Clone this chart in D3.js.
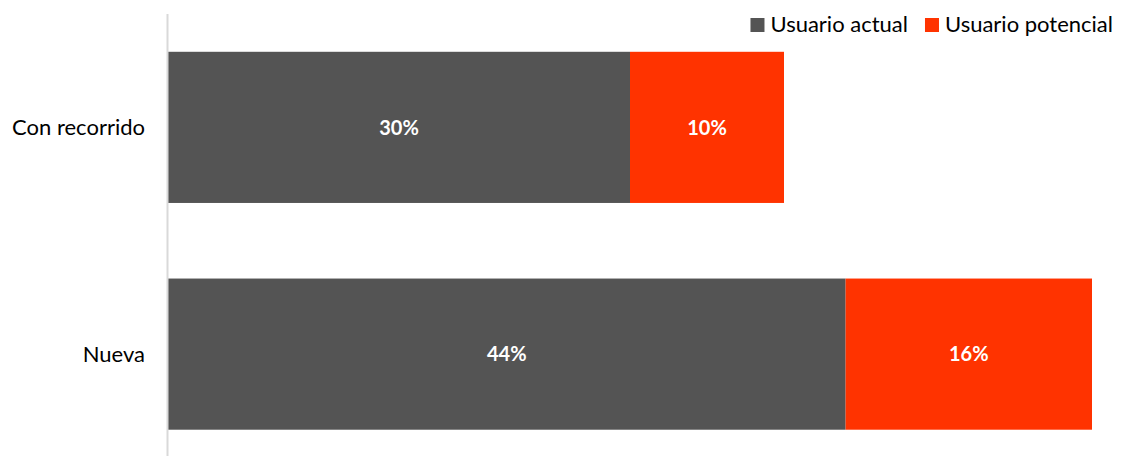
<!DOCTYPE html>
<html>
<head>
<meta charset="utf-8">
<script src="https://cdn.jsdelivr.net/npm/d3@7/dist/d3.min.js"></script>
<style>
  html, body { margin: 0; padding: 0; background: #ffffff; }
  svg { display: block; }
</style>
</head>
<body>
<svg id="chart" width="1123" height="456"></svg>
<script>
// Survey share by type of user, stacked horizontally
const categories = ["Con recorrido", "Nueva"];
const seriesNames = ["Usuario actual", "Usuario potencial"];
const usuarioActual = [30, 44];
const usuarioPotencial = [10, 16];
const seriesColors = ["#545454", "#ff3300"];

const W = 1123, H = 456;
const plot = { left: 167, right: 1092, top: 14, bottom: 467.5 };
const FONT = "Lato, 'Open Sans', sans-serif";

const svg = d3.select("#chart");

const rows = categories.map((c, i) => ({
  category: c,
  "Usuario actual": usuarioActual[i],
  "Usuario potencial": usuarioPotencial[i]
}));

const stacked = d3.stack().keys(seriesNames)(rows);

const x = d3.scaleLinear()
  .domain([0, d3.max(rows, d => d["Usuario actual"] + d["Usuario potencial"])])
  .range([plot.left + 1, plot.right]);

const y = d3.scaleBand()
  .domain(categories)
  .range([plot.top, plot.bottom])
  .paddingInner(1 / 3)
  .paddingOuter(1 / 6);

const color = d3.scaleOrdinal().domain(seriesNames).range(seriesColors);

// Bars
const layers = svg.append("g").selectAll("g")
  .data(stacked)
  .join("g")
  .attr("fill", d => color(d.key));

layers.selectAll("rect")
  .data(d => d.map(v => ({ key: d.key, v })))
  .join("rect")
  .attr("x", d => x(d.v[0]))
  .attr("y", d => y(d.v.data.category))
  .attr("width", d => x(d.v[1]) - x(d.v[0]))
  .attr("height", y.bandwidth());

// Value labels
layers.selectAll("text")
  .data(d => d.map(v => ({ key: d.key, v })))
  .join("text")
  .attr("x", d => (x(d.v[0]) + x(d.v[1])) / 2)
  .attr("y", d => y(d.v.data.category) + y.bandwidth() / 2)
  .attr("dy", "0.36em")
  .attr("text-anchor", "middle")
  .attr("fill", "#ffffff")
  .style("font-family", FONT)
  .style("font-size", "20px")
  .style("font-weight", "bold")
  .text(d => (d.v[1] - d.v[0]) + "%");

// Category axis
const yAxis = svg.append("g")
  .attr("transform", `translate(${plot.left},0)`)
  .call(d3.axisLeft(y).tickSize(0).tickPadding(22));
yAxis.select(".domain")
  .attr("d", `M0.5,${plot.top}V${plot.bottom}`)
  .attr("stroke", "#d9d9d9")
  .attr("stroke-width", 2);
yAxis.selectAll("text")
  .attr("fill", "#000000")
  .attr("dy", "0.36em")
  .style("font-family", FONT)
  .style("font-size", "22px");

// Legend, right-aligned at the top
const legend = svg.append("g");
const legendRight = 1113;
const items = seriesNames.slice().reverse();
let cursor = legendRight;
items.forEach(name => {
  const g = legend.append("g");
  const t = g.append("text")
    .attr("y", 32)
    .attr("fill", "#000000")
    .style("font-family", FONT)
    .style("font-size", "22px")
    .text(name);
  const w = t.node().getComputedTextLength();
  t.attr("x", cursor - w);
  g.append("rect")
    .attr("x", cursor - w - 20)
    .attr("y", 18)
    .attr("width", 14)
    .attr("height", 14)
    .attr("fill", color(name));
  cursor = cursor - w - 20 - 17;
});
</script>
</body>
</html>
